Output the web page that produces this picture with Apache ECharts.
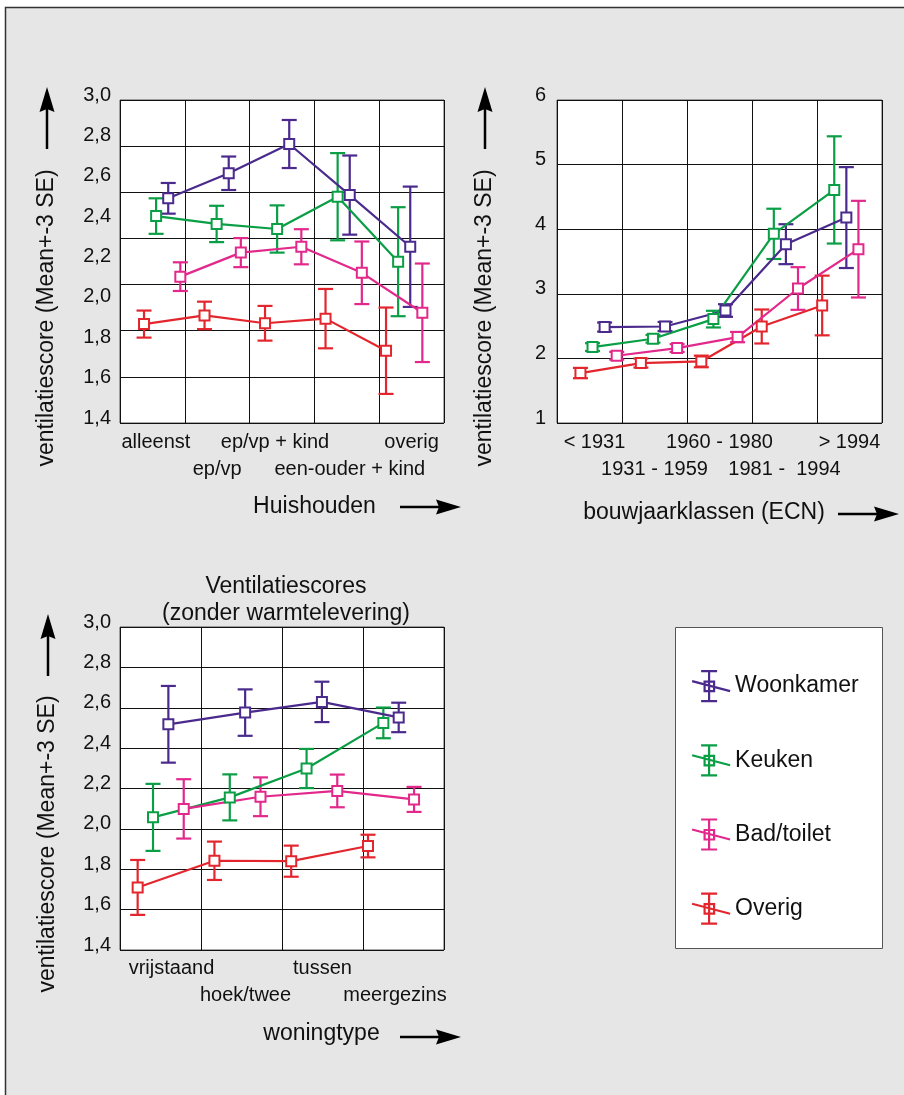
<!DOCTYPE html>
<html>
<head>
<meta charset="utf-8">
<script src="https://cdn.jsdelivr.net/npm/echarts@6/dist/echarts.min.js"></script>
<style>
  html, body { margin: 0; padding: 0; background: #fff; }
  #chart { width: 904px; height: 1095px; }
</style>
</head>
<body>
<div id="chart"></div>
<script>
// Room types shown in every panel (legend order)
const seriesNames = ['Woonkamer', 'Keuken', 'Bad/toilet', 'Overig'];

// Panel 1: ventilation score by household type (mean, and 3*SE half-width)
const huishouden = ['alleenst', 'ep/vp', 'ep/vp + kind', 'een-ouder + kind', 'overig'];
const huisWoonkamer    = [2.513, 2.637, 2.782, 2.529, 2.273];
const huisWoonkamerErr = [0.076, 0.083, 0.119, 0.196, 0.298];
const huisKeuken       = [2.425, 2.386, 2.361, 2.521, 2.199];
const huisKeukenErr    = [0.088, 0.090, 0.117, 0.216, 0.270];
const huisBad          = [2.125, 2.244, 2.273, 2.144, 1.946];
const huisBadErr       = [0.071, 0.072, 0.087, 0.155, 0.244];
const huisOverig       = [1.890, 1.933, 1.894, 1.917, 1.758];
const huisOverigErr    = [0.067, 0.068, 0.086, 0.147, 0.214];

// Panel 2: ventilation score by construction period (ECN classes)
const bouwjaar = ['< 1931', '1931 - 1959', '1960 - 1980', '1981 -  1994', '> 1994'];
const bouwWoonkamer    = [2.485, 2.494, 2.741, 3.768, 4.180];
const bouwWoonkamerErr = [0.070, 0.070, 0.098, 0.309, 0.781];
const bouwKeuken       = [2.175, 2.304, 2.608, 3.928, 4.608];
const bouwKeukenErr    = [0.060, 0.060, 0.129, 0.389, 0.830];
const bouwBad          = [2.041, 2.160, 2.330, 3.082, 3.691];
const bouwBadErr       = [0.060, 0.060, 0.080, 0.330, 0.748];
const bouwOverig       = [1.773, 1.928, 1.953, 2.494, 2.819];
const bouwOverigErr    = [0.080, 0.070, 0.090, 0.263, 0.462];

// Panel 3: ventilation score by dwelling type (without district heating)
const woningtype = ['vrijstaand', 'hoek/twee', 'tussen', 'meergezins'];
const wonWoonkamer    = [2.518, 2.576, 2.629, 2.552];
const wonWoonkamerErr = [0.190, 0.115, 0.100, 0.073];
const wonKeuken       = [2.057, 2.156, 2.299, 2.525];
const wonKeukenErr    = [0.166, 0.114, 0.097, 0.076];
const wonBad          = [2.099, 2.159, 2.188, 2.146];
const wonBadErr       = [0.147, 0.096, 0.081, 0.062];
const wonOverig       = [1.710, 1.842, 1.840, 1.915];
const wonOverigErr    = [0.136, 0.095, 0.077, 0.056];

const FONT = "'Liberation Sans', Arial, Helvetica, sans-serif";
const INK = '#111';
const COLORS = { 'Woonkamer': '#4a2a8c', 'Keuken': '#0a9e45', 'Bad/toilet': '#e2288b', 'Overig': '#e3262d' };
// horizontal dodge of each room series around its category
const DODGE = { 'Woonkamer': 0.1, 'Keuken': -0.1, 'Bad/toilet': 0.3, 'Overig': -0.3 };

function errorBar(color) {
  return function (params, api) {
    const x = api.value(0);
    const top = api.coord([x, api.value(2)]);
    const bot = api.coord([x, api.value(1)]);
    const w = 7.5;
    const st = { stroke: color, lineWidth: 2.2 };
    return {
      type: 'group',
      children: [
        { type: 'line', shape: { x1: top[0], y1: top[1], x2: bot[0], y2: bot[1] }, style: st },
        { type: 'line', shape: { x1: top[0] - w, y1: top[1], x2: top[0] + w, y2: top[1] }, style: st },
        { type: 'line', shape: { x1: bot[0] - w, y1: bot[1], x2: bot[0] + w, y2: bot[1] }, style: st }
      ]
    };
  };
}

function panelSeries(xAxisIndex, yAxisIndex, byName) {
  const out = [];
  seriesNames.forEach(function (name) {
    const means = byName[name][0], errs = byName[name][1];
    const color = COLORS[name];
    out.push({
      type: 'custom', name: name, xAxisIndex: xAxisIndex, yAxisIndex: yAxisIndex, z: 2, silent: true,
      encode: { x: 0, y: [1, 2] },
      data: means.map(function (m, i) { return [i + DODGE[name], m - errs[i], m + errs[i]]; }),
      renderItem: errorBar(color)
    });
    out.push({
      type: 'line', name: name, xAxisIndex: xAxisIndex, yAxisIndex: yAxisIndex, z: 3,
      data: means.map(function (m, i) { return [i + DODGE[name], m]; }),
      symbol: 'emptyRect', symbolSize: 10,
      lineStyle: { color: color, width: 2.2 },
      itemStyle: { color: color, borderColor: color, borderWidth: 2.2 }
    });
  });
  return out;
}

const gridLine = { show: true, lineStyle: { color: INK, width: 1 } };
const commaFmt = function (v) { return v.toFixed(1).replace('.', ','); };
// y tick labels sit slightly above their gridline
const yLabel = { margin: 9, fontSize: 20, color: INK, fontFamily: FONT, verticalAlign: 'bottom', lineHeight: 10 };

function catAxis(gridIndex, cats, margin, nudges) {
  return {
    type: 'category', gridIndex: gridIndex, position: 'bottom', boundaryGap: true,
    data: cats.map(function (c, i) {
      return nudges && nudges[i] ? { value: c, textStyle: { padding: nudges[i] } } : c;
    }),
    axisLine: { show: false }, axisTick: { show: false },
    axisLabel: {
      interval: 0, margin: margin, fontSize: 20, lineHeight: 27, color: INK, fontFamily: FONT,
      formatter: function (v, i) { return i % 2 ? '\n' + v : v; }
    },
    splitLine: gridLine
  };
}
function valX(gridIndex, min, max) {
  return { type: 'value', gridIndex: gridIndex, min: min, max: max, show: false };
}

function upArrow(cx, tip, bottom) {
  return {
    type: 'group', children: [
      { type: 'line', shape: { x1: cx, y1: bottom, x2: cx, y2: tip + 18 }, style: { stroke: '#000', lineWidth: 2.5 } },
      { type: 'polygon', shape: { points: [[cx, tip], [cx + 7.5, tip + 25], [cx, tip + 22], [cx - 7.5, tip + 25]] }, style: { fill: '#000' } }
    ]
  };
}
function rightArrow(x0, tip, cy) {
  return {
    type: 'group', children: [
      { type: 'line', shape: { x1: x0, y1: cy, x2: tip - 18, y2: cy }, style: { stroke: '#000', lineWidth: 2.5 } },
      { type: 'polygon', shape: { points: [[tip, cy], [tip - 25, cy - 7.5], [tip - 22, cy], [tip - 25, cy + 7.5]] }, style: { fill: '#000' } }
    ]
  };
}
function label(text, x, y, rot) {
  return {
    type: 'text', x: x, y: y, rotation: rot || 0,
    style: { text: text, fill: INK, font: '23px ' + FONT, align: 'center', verticalAlign: 'middle' }
  };
}

const yTitle = 'ventilatiescore (Mean+-3 SE)';
const legendIcon = 'path://M0 10L38 20M17 0L17 30M9 0L25 0M9 30L25 30M12.5 10.5L22 10.5L22 20L12.5 20Z';

const option = {
  animation: false,
  backgroundColor: '#fff',
  textStyle: { fontFamily: FONT },
  title: {
    text: 'Ventilatiescores\n(zonder warmtelevering)',
    left: 286, top: 573, padding: 0, textAlign: 'center',
    textStyle: { fontSize: 23, fontWeight: 'normal', color: INK, lineHeight: 27, fontFamily: FONT }
  },
  legend: {
    orient: 'vertical', left: 691, top: 670, padding: 0,
    itemWidth: 38, itemHeight: 30, itemGap: 42,
    textStyle: { fontSize: 23, color: INK, fontFamily: FONT },
    data: seriesNames.map(function (n) {
      return { name: n, icon: legendIcon, itemStyle: { color: '#fff', borderColor: COLORS[n], borderWidth: 2.2 } };
    })
  },
  grid: [
    { left: 120, top: 100, width: 324, height: 323, show: true, backgroundColor: '#fff', borderColor: '#555', borderWidth: 1 },
    { left: 557, top: 100, width: 325, height: 323, show: true, backgroundColor: '#fff', borderColor: '#555', borderWidth: 1 },
    { left: 120, top: 627, width: 324, height: 323, show: true, backgroundColor: '#fff', borderColor: '#555', borderWidth: 1 }
  ],
  xAxis: [
    catAxis(0, huishouden, 6, [[0, 0, 0, 7], null, [0, 14, 0, 0], [0, 0, 0, 6], null]),
    valX(0, -0.697, 4.658),
    catAxis(1, bouwjaar, 6, [[0, 0, 0, 10], null, null, null, null]),
    valX(1, -0.688, 4.69),
    catAxis(2, woningtype, 5, [[0, 0, 0, 22], [0, 0, 0, 8], null, [0, 17, 0, 0]]),
    valX(2, -0.53, 3.69)
  ],
  yAxis: [
    { type: 'value', gridIndex: 0, position: 'left', min: 1.4, max: 3.0, interval: 0.2,
      axisLine: { show: false }, axisTick: { show: false }, splitLine: { show: false },
      axisLabel: Object.assign({ formatter: commaFmt }, yLabel) },
    { type: 'value', gridIndex: 0, position: 'left', min: 0, max: 7, interval: 1,
      axisLine: { show: false }, axisTick: { show: false }, axisLabel: { show: false }, splitLine: gridLine },
    { type: 'value', gridIndex: 1, position: 'left', min: 1, max: 6, interval: 1,
      axisLine: { show: false }, axisTick: { show: false }, splitLine: gridLine,
      axisLabel: Object.assign({}, yLabel, { margin: 11 }) },
    { type: 'value', gridIndex: 2, position: 'left', min: 1.4, max: 3.0, interval: 0.2,
      axisLine: { show: false }, axisTick: { show: false }, splitLine: gridLine,
      axisLabel: Object.assign({ formatter: commaFmt }, yLabel) }
  ],
  graphic: {
    elements: [
      { type: 'rect', z: -10, shape: { x: 5.5, y: 7.5, width: 910, height: 1100 }, style: { fill: '#e6e6e6', stroke: '#333', lineWidth: 1.5 } },
      { type: 'rect', z: -5, shape: { x: 675.5, y: 627.5, width: 207, height: 321 }, style: { fill: '#fff', stroke: '#555', lineWidth: 1 } },
      label(yTitle, 47, 318, Math.PI / 2), upArrow(47, 87, 149),
      label(yTitle, 485, 318, Math.PI / 2), upArrow(485, 87, 149),
      label(yTitle, 48, 844, Math.PI / 2), upArrow(48, 614, 676),
      label('Huishouden', 314.5, 507), rightArrow(400, 461, 507),
      label('bouwjaarklassen (ECN)', 704, 513), rightArrow(838, 899, 514),
      label('woningtype', 321.5, 1034), rightArrow(400, 461, 1037)
    ]
  },
  series: [].concat(
    panelSeries(1, 0, {
      'Woonkamer': [huisWoonkamer, huisWoonkamerErr], 'Keuken': [huisKeuken, huisKeukenErr],
      'Bad/toilet': [huisBad, huisBadErr], 'Overig': [huisOverig, huisOverigErr]
    }),
    panelSeries(3, 2, {
      'Woonkamer': [bouwWoonkamer, bouwWoonkamerErr], 'Keuken': [bouwKeuken, bouwKeukenErr],
      'Bad/toilet': [bouwBad, bouwBadErr], 'Overig': [bouwOverig, bouwOverigErr]
    }),
    panelSeries(5, 3, {
      'Woonkamer': [wonWoonkamer, wonWoonkamerErr], 'Keuken': [wonKeuken, wonKeukenErr],
      'Bad/toilet': [wonBad, wonBadErr], 'Overig': [wonOverig, wonOverigErr]
    })
  )
};

const chart = echarts.init(document.getElementById('chart'), null, { renderer: 'canvas' });
chart.setOption(option);
</script>
</body>
</html>
